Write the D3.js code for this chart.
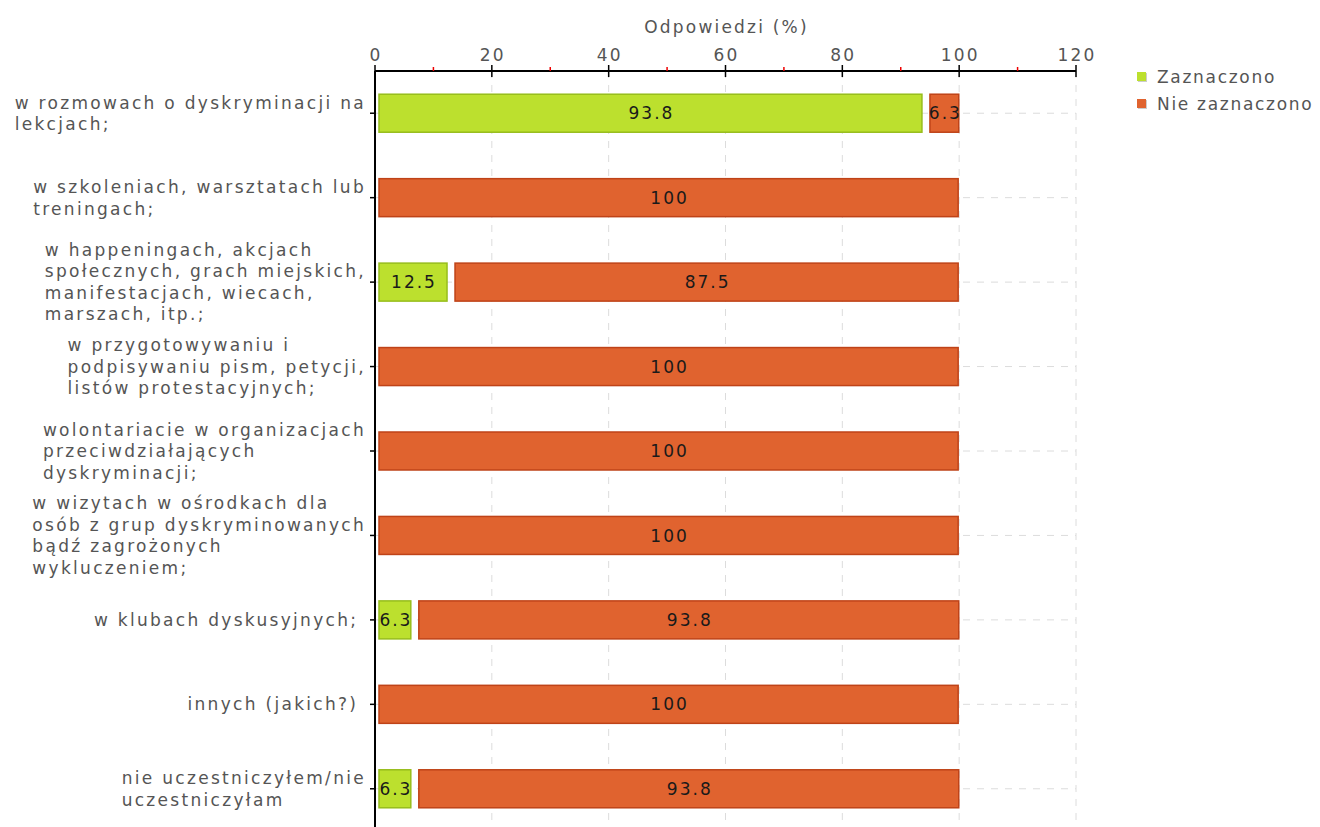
<!DOCTYPE html>
<html>
<head>
<meta charset="utf-8">
<title>Odpowiedzi</title>
<script src="https://d3js.org/d3.v7.min.js"></script>
<style>
  body { margin: 0; background: #fff; font-family: "DejaVu Sans", Verdana, sans-serif; }
  .lbl { fill: #555; font-size: 17px; letter-spacing: 2.3px; }
  .tick { fill: #555; font-size: 17px; letter-spacing: 2.2px; }
  .leg { fill: #555; font-size: 17px; letter-spacing: 1.7px; }
  .val { fill: #1a1a1a; font-size: 17px; letter-spacing: 2px; }
</style>
</head>
<body>
<script>
// categories (each one already split into its lines)
var categories = [
  ["w rozmowach o dyskryminacji na", "lekcjach;"],
  ["w szkoleniach, warsztatach lub", "treningach;"],
  ["w happeningach, akcjach", "społecznych, grach miejskich,", "manifestacjach, wiecach,", "marszach, itp.;"],
  ["w przygotowywaniu i", "podpisywaniu pism, petycji,", "listów protestacyjnych;"],
  ["wolontariacie w organizacjach", "przeciwdziałających", "dyskryminacji;"],
  ["w wizytach w ośrodkach dla", "osób z grup dyskryminowanych", "bądź zagrożonych", "wykluczeniem;"],
  ["w klubach dyskusyjnych;\u00a0"],
  ["innych (jakich?)\u00a0"],
  ["nie uczestniczyłem/nie", "uczestniczyłam"]
];
var zaznaczono    = [93.8, 0, 12.5, 0, 0, 0, 6.3, 0, 6.3];
var nieZaznaczono = [6.3, 100, 87.5, 100, 100, 100, 93.8, 100, 93.8];
var seriesNames = ["Zaznaczono", "Nie zaznaczono"];
var xTicks = [0, 20, 40, 60, 80, 100, 120];
var xMinorTicks = [10, 30, 50, 70, 90, 110];

var colors = {fill: ["#bce02e", "#e0632f"], stroke: ["#97bd1c", "#bf4318"]};

var width = 1320, height = 827;
var svg = d3.select("body").append("svg")
  .attr("width", width).attr("height", height);

var x = d3.scaleLinear().domain([0, 120]).range([375, 1076]);
var y = d3.scaleBand().domain(d3.range(categories.length)).range([71, 831]);
var barH = 38;

// grid
var grid = svg.append("g");
grid.selectAll("line.v").data(xTicks.slice(1)).enter().append("line")
  .attr("x1", d => x(d)).attr("x2", d => x(d))
  .attr("y1", 71).attr("y2", height)
  .attr("stroke", "#dcdcdc").attr("stroke-dasharray", "7,7");
grid.selectAll("line.h").data(d3.range(categories.length)).enter().append("line")
  .attr("x1", x(0)).attr("x2", x(120))
  .attr("y1", d => y(d) + y.bandwidth() / 2).attr("y2", d => y(d) + y.bandwidth() / 2)
  .attr("stroke", "#dcdcdc").attr("stroke-dasharray", "7,7");

// stacked data
var stack = d3.stack().keys([0, 1])(categories.map((c, i) => [zaznaczono[i], nieZaznaczono[i]]));

var bars = svg.append("g");
stack.forEach(function(layer, k) {
  var segs = layer.map((d, i) => ({i: i, x0: d[0], x1: d[1]})).filter(d => d.x1 - d.x0 > 0);
  bars.selectAll("rect.s" + k).data(segs).enter().append("rect")
    .attr("x", d => x(d.x0) + (d.x0 > 0 ? 7 : 4))
    .attr("y", d => y(d.i) + y.bandwidth() / 2 - barH / 2)
    .attr("width", d => x(d.x1) - x(d.x0) - (d.x0 > 0 ? 7 : 4) - 1)
    .attr("height", barH)
    .attr("fill", colors.fill[k])
    .attr("stroke", colors.stroke[k]).attr("stroke-width", 1.5);
  bars.selectAll("text.s" + k).data(segs).enter().append("text")
    .attr("class", "val")
    .attr("x", d => (x(d.x0) + (d.x0 > 0 ? 7 : 4) + x(d.x1) - 1) / 2 + 1)
    .attr("y", d => y(d.i) + y.bandwidth() / 2)
    .attr("dy", "0.36em")
    .attr("text-anchor", "middle")
    .text(d => d3.format(".1~f")(d.x1 - d.x0));
});

// top axis
var axis = svg.append("g");
axis.append("line").attr("x1", x(0)).attr("x2", x(120)).attr("y1", 71).attr("y2", 71)
  .attr("stroke", "#000").attr("stroke-width", 2);
axis.selectAll("line.maj").data(xTicks).enter().append("line")
  .attr("x1", d => x(d)).attr("x2", d => x(d)).attr("y1", 65).attr("y2", 77)
  .attr("stroke", "#000").attr("stroke-width", 1.5);
axis.selectAll("line.min").data(xMinorTicks).enter().append("line")
  .attr("x1", d => x(d)).attr("x2", d => x(d)).attr("y1", 67).attr("y2", 71)
  .attr("stroke", "#e00").attr("stroke-width", 1.5);
axis.selectAll("text").data(xTicks).enter().append("text")
  .attr("class", "tick").attr("x", d => x(d) + 1).attr("y", 61)
  .attr("text-anchor", "middle").text(d => d);
svg.append("text").attr("class", "tick")
  .attr("x", (x(0) + x(120)) / 2 + 1).attr("y", 33)
  .attr("text-anchor", "middle").text("Odpowiedzi (%)");

// left axis
svg.append("line").attr("x1", x(0)).attr("x2", x(0)).attr("y1", 71).attr("y2", height)
  .attr("stroke", "#000").attr("stroke-width", 2);
svg.append("g").selectAll("line").data(d3.range(categories.length)).enter().append("line")
  .attr("x1", x(0) - 5).attr("x2", x(0))
  .attr("y1", d => y(d) + y.bandwidth() / 2).attr("y2", d => y(d) + y.bandwidth() / 2)
  .attr("stroke", "#000").attr("stroke-width", 1.5);

// category labels: left aligned block, right edge at 366
var lineH = 21.5;
var lab = svg.append("g");
categories.forEach(function(lines, i) {
  var g = lab.append("g");
  var cy = y(i) + y.bandwidth() / 2;
  var t = g.append("text").attr("class", "lbl");
  lines.forEach(function(s, j) {
    t.append("tspan").attr("x", 0)
      .attr("y", cy + (j - (lines.length - 1) / 2) * lineH)
      .attr("dy", "0.36em").text(s);
  });
  var w = d3.max(t.selectAll("tspan").nodes(), n => n.getComputedTextLength());
  g.attr("transform", "translate(" + (366 - w) + ",0)");
});

// legend
var leg = svg.append("g");
seriesNames.forEach(function(s, k) {
  var ly = 77 + k * 27;
  leg.append("rect").attr("x", 1138).attr("y", ly - 4).attr("width", 9).attr("height", 9)
    .attr("fill", "#ccc");
  leg.append("rect").attr("x", 1137).attr("y", ly - 5).attr("width", 9).attr("height", 9)
    .attr("fill", colors.fill[k]);
  leg.append("text").attr("class", "leg").attr("x", 1157).attr("y", ly)
    .attr("dy", "0.36em").text(s);
});
</script>
</body>
</html>
